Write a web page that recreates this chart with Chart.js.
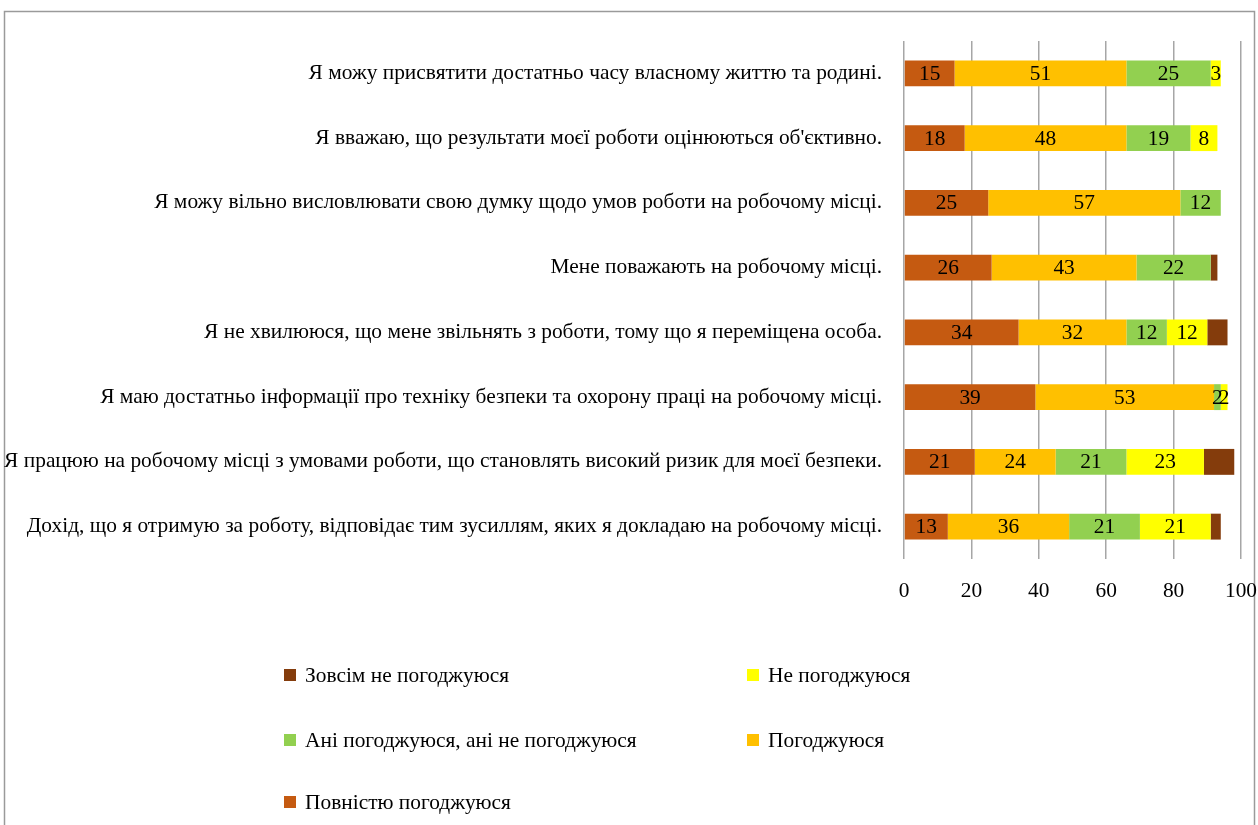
<!DOCTYPE html>
<html>
<head>
<meta charset="utf-8">
<script src="https://cdn.jsdelivr.net/npm/chart.js@4/dist/chart.umd.min.js"></script>
<style>
  html, body { margin: 0; padding: 0; background: #fff; }
  #wrap { position: absolute; left: 0; top: 0; width: 1258px; height: 825px; }
</style>
</head>
<body>
<div id="wrap"><canvas id="c" width="1258" height="825"></canvas></div>
<script>
const categories = [
  "Я можу присвятити достатньо часу власному життю та родині.",
  "Я вважаю, що результати моєї роботи оцінюються об'єктивно.",
  "Я можу вільно висловлювати свою думку щодо умов роботи на робочому місці.",
  "Мене поважають на робочому місці.",
  "Я не хвилююся, що мене звільнять з роботи, тому що я переміщена особа.",
  "Я маю достатньо інформації про техніку безпеки та охорону праці на робочому місці.",
  "Я працюю на робочому місці з умовами роботи, що становлять високий ризик для моєї безпеки.",
  "Дохід, що я отримую за роботу, відповідає тим зусиллям, яких я докладаю на робочому місці."
];
const fullyAgree       = [15, 18, 25, 26, 34, 39, 21, 13];
const agree            = [51, 48, 57, 43, 32, 53, 24, 36];
const neutral          = [25, 19, 12, 22, 12, 2, 21, 21];
const disagree         = [3, 8, 0, 0, 12, 2, 23, 21];
const stronglyDisagree = [0, 0, 0, 2, 6, 0, 9, 3];
const xTicks = [0, 20, 40, 60, 80, 100];

const seriesNames = ["Повністю погоджуюся", "Погоджуюся", "Ані погоджуюся, ані не погоджуюся", "Не погоджуюся", "Зовсім не погоджуюся"];
const seriesColors = ["#C55A11", "#FFC000", "#92D050", "#FFFF00", "#843C0C"];
const seriesData = [fullyAgree, agree, neutral, disagree, stronglyDisagree];
const showLabels = [true, true, true, true, false];

const FONT = "'Liberation Serif', 'Times New Roman', serif";
const FS = 21.4;

const frame = {
  id: 'frame',
  beforeDraw(chart) {
    const ctx = chart.ctx;
    ctx.save();
    ctx.strokeStyle = '#9a9a9a';
    ctx.lineWidth = 1.5;
    ctx.beginPath();
    ctx.moveTo(4.5, 830);
    ctx.lineTo(4.5, 11.5);
    ctx.lineTo(1254.5, 11.5);
    ctx.lineTo(1254.5, 830);
    ctx.stroke();
    ctx.restore();
  }
};

const valueLabels = {
  id: 'valueLabels',
  afterDatasetsDraw(chart) {
    const ctx = chart.ctx;
    ctx.save();
    ctx.font = FS + "px " + FONT;
    ctx.fillStyle = '#000';
    ctx.textAlign = 'center';
    ctx.textBaseline = 'middle';
    chart.data.datasets.forEach((ds, di) => {
      if (!ds.showValue) return;
      const meta = chart.getDatasetMeta(di);
      meta.data.forEach((bar, i) => {
        const v = ds.data[i];
        if (!v) return;
        const cx = (bar.x + bar.base) / 2;
        ctx.fillText(String(v), cx, bar.y + 1);
      });
    });
    ctx.restore();
  }
};

const customLegend = {
  id: 'customLegend',
  afterDraw(chart) {
    const ctx = chart.ctx;
    const order = [4, 3, 2, 1, 0];
    const cols = [284, 747];
    const rows = [675, 740, 802];
    ctx.save();
    ctx.font = FS + "px " + FONT;
    ctx.textAlign = 'left';
    ctx.textBaseline = 'middle';
    order.forEach((di, k) => {
      const ds = chart.data.datasets[di];
      const x = cols[k % 2];
      const y = rows[Math.floor(k / 2)];
      ctx.fillStyle = ds.backgroundColor;
      ctx.fillRect(x, y - 6, 12, 12);
      ctx.fillStyle = '#000';
      ctx.fillText(ds.label, x + 21, y + 1);
    });
    ctx.restore();
  }
};

const datasets = seriesNames.map((name, i) => ({
  label: name,
  data: seriesData[i],
  backgroundColor: seriesColors[i],
  borderWidth: 0,
  categoryPercentage: 0.8,
  barPercentage: 0.5,
  showValue: showLabels[i]
}));

new Chart(document.getElementById('c'), {
  type: 'bar',
  data: { labels: categories, datasets },
  options: {
    indexAxis: 'y',
    responsive: false,
    animation: false,
    devicePixelRatio: 1,
    layout: { padding: { left: 0, right: 17, top: 41, bottom: 206 } },
    plugins: { legend: { display: false }, tooltip: { enabled: false } },
    scales: {
      x: {
        stacked: true,
        min: 0, max: 100,
        afterBuildTicks(scale) { scale.ticks = xTicks.map(v => ({ value: v })); },
        afterFit(scale) { scale.height = 60; scale.paddingLeft = 0; scale.paddingRight = 0; },
        grid: { color: '#a6a6a6', lineWidth: 1.5, drawTicks: false },
        border: { display: false },
        ticks: { color: '#000', font: { family: FONT, size: FS }, padding: 20, maxRotation: 0 }
      },
      y: {
        stacked: true,
        afterFit(scale) { scale.width = 904; },
        grid: { display: false, drawTicks: false },
        border: { display: false },
        ticks: { color: '#000', font: { family: FONT, size: FS }, padding: 22, autoSkip: false }
      }
    }
  },
  plugins: [frame, valueLabels, customLegend]
});
</script>
</body>
</html>
